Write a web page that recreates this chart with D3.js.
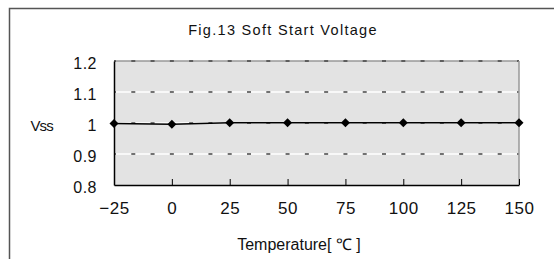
<!DOCTYPE html>
<html>
<head>
<meta charset="utf-8">
<script src="https://cdn.jsdelivr.net/npm/d3@7/dist/d3.min.js"></script>
<style>
  body { margin: 0; background: #fff; }
  svg text { font-family: "Liberation Sans", Arial, sans-serif; fill: #111; }
</style>
</head>
<body>
<svg width="554" height="259"></svg>
<script>
var temps = [-25, 0, 25, 50, 75, 100, 125, 150];
var vss = [0.998, 0.996, 1.001, 1.001, 1.001, 1.001, 1.001, 1.001];
var yTicks = [0.8, 0.9, 1.0, 1.1, 1.2];

var svg = d3.select("svg"),
    margin = { top: 61, right: 35, bottom: 74, left: 114 },
    width = 554 - margin.left - margin.right,
    height = 259 - margin.top - margin.bottom;

// outer frame (top and left only show)
svg.append("path")
    .attr("d", "M9.5,259V8.5H554")
    .attr("fill", "none")
    .attr("stroke", "#555")
    .attr("stroke-width", 1.5);

svg.append("text")
    .attr("x", 283)
    .attr("y", 35)
    .attr("text-anchor", "middle")
    .style("font-size", "14.5px")
    .style("letter-spacing", "1.3px")
    .text("Fig.13 Soft Start Voltage");

var x = d3.scaleLinear().domain([-25, 150]).range([0, width]);
var y = d3.scaleLinear().domain([0.8, 1.2]).range([height, 0]);

var g = svg.append("g")
    .attr("transform", "translate(" + margin.left + "," + margin.top + ")");

g.append("rect")
    .attr("width", width)
    .attr("height", height)
    .attr("fill", "#e3e3e3");

// gridlines: white line with small dark dashes
var period = width / 21;
yTicks.slice(1).forEach(function (t) {
    g.append("line")
        .attr("x1", 0).attr("x2", width)
        .attr("y1", y(t)).attr("y2", y(t))
        .attr("stroke", t == 1.2 ? "#999" : "#fff")
        .attr("stroke-width", 1.5);
    g.append("line")
        .attr("x1", 0).attr("x2", width)
        .attr("y1", y(t)).attr("y2", y(t))
        .attr("stroke", "#444")
        .attr("stroke-width", 1.5)
        .attr("stroke-dasharray", "4," + (period - 4))
        .attr("stroke-dashoffset", 2);
});

// right border
g.append("line")
    .attr("x1", width).attr("x2", width)
    .attr("y1", 0).attr("y2", height)
    .attr("stroke", "#999")
    .attr("stroke-width", 1.5);

// x axis
g.append("g")
    .attr("class", "x axis")
    .attr("transform", "translate(0," + height + ")")
    .call(d3.axisBottom(x).tickValues(temps).tickSizeInner(-6).tickSizeOuter(0)
        .tickPadding(17).tickFormat(function (d) { return d < 0 ? "\u2212" + (-d) : d; }))
    .call(function (a) {
        a.select(".domain").attr("stroke", "#000").attr("stroke-width", 1.5);
        a.selectAll(".tick line").attr("stroke", "#000");
        a.selectAll("text").style("font-size", "17px").style("font-family", "Liberation Sans, Arial, sans-serif")
            .style("letter-spacing", "0.5px").attr("fill", "#111");
    });

// y axis
g.append("g")
    .attr("class", "y axis")
    .call(d3.axisLeft(y).tickValues(yTicks).tickSize(0).tickPadding(17)
        .tickFormat(function (d) { return d == 1 ? "1" : d3.format(".1f")(d); }))
    .call(function (a) {
        a.select(".domain").attr("stroke", "#000").attr("stroke-width", 1.5);
        a.selectAll("text").attr("dy", "0.48em").style("font-size", "16px").attr("fill", "#111")
            .style("font-family", "Liberation Sans, Arial, sans-serif").style("letter-spacing", "0.5px");
    });

var data = temps.map(function (t, i) { return { t: t, v: vss[i] }; });

g.append("path")
    .datum(data)
    .attr("fill", "none")
    .attr("stroke", "#000")
    .attr("stroke-width", 1.5)
    .attr("d", d3.line().x(function (d) { return x(d.t); }).y(function (d) { return y(d.v); }));

g.selectAll(".pt")
    .data(data)
    .enter().append("path")
    .attr("class", "pt")
    .attr("d", "M0,-4.5L4.5,0L0,4.5L-4.5,0Z")
    .attr("fill", "#000")
    .attr("transform", function (d) { return "translate(" + x(d.t) + "," + y(d.v) + ")"; });

svg.append("text")
    .attr("x", 53)
    .attr("y", 131)
    .attr("text-anchor", "end")
    .style("font-size", "15px")
    .style("letter-spacing", "-0.8px")
    .text("Vss");

svg.append("text")
    .attr("x", 299)
    .attr("y", 250)
    .attr("text-anchor", "middle")
    .style("font-size", "16px")
    .text("Temperature[ \u2103 ]");
</script>
</body>
</html>
